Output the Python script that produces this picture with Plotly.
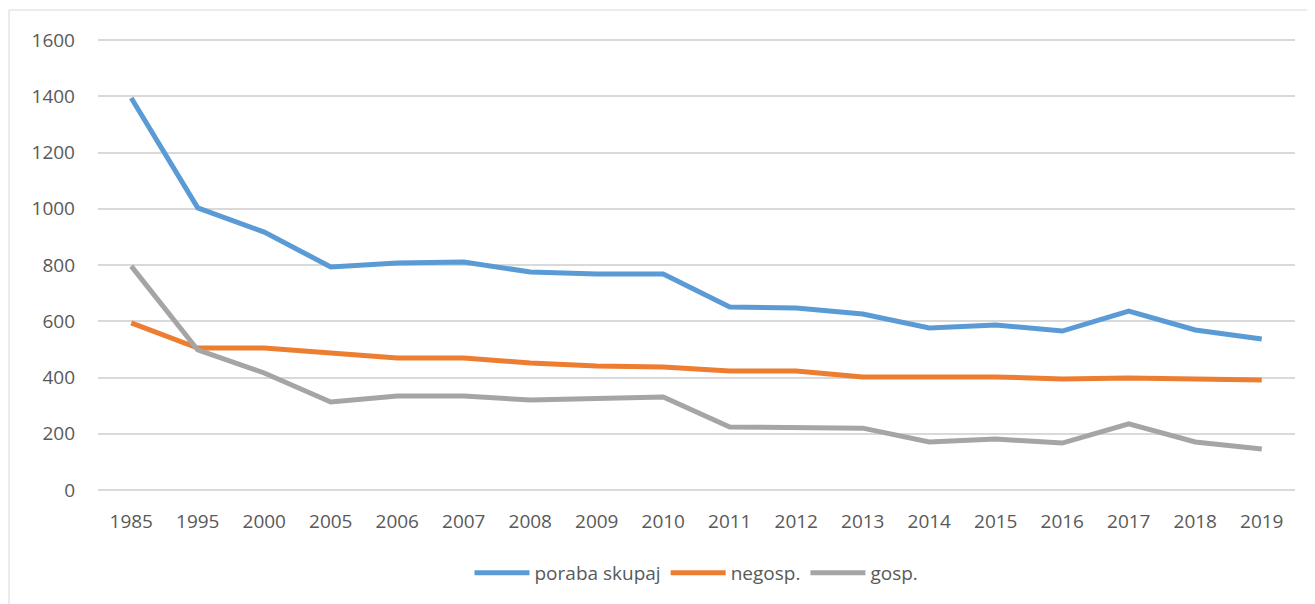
import plotly.graph_objects as go

years = ["1985", "1995", "2000", "2005", "2006", "2007", "2008", "2009", "2010",
         "2011", "2012", "2013", "2014", "2015", "2016", "2017", "2018", "2019"]
poraba_skupaj = [1394, 1003, 917, 793, 807, 811, 775, 768, 768,
                 651, 647, 626, 576, 587, 565, 636, 569, 537]
negosp = [594, 505, 505, 487, 469, 469, 452, 441, 437,
          423, 423, 402, 402, 402, 395, 398, 395, 391]
gosp = [796, 498, 416, 313, 334, 334, 320, 324, 331,
        224, 220, 220, 171, 181, 167, 235, 171, 146]

series = [("poraba skupaj", poraba_skupaj, "#5b9bd5"),
          ("negosp.", negosp, "#ed7d31"),
          ("gosp.", gosp, "#a5a5a5")]

fig = go.Figure()
for name, vals, col in series:
    fig.add_trace(go.Scatter(x=years, y=vals, name=name, mode="lines",
                             line=dict(color=col, width=5)))

# page has an 8px body margin; compensate
W, H = 1307, 596
L, R, T, B = 90, 20, 30, 111
pw, ph = W - L - R, H - T - B
upp = 1600 / 450.0  # units per pixel

fig.update_layout(
    width=W, height=H,
    margin=dict(l=L, r=R, t=T, b=B, autoexpand=False),
    paper_bgcolor="white", plot_bgcolor="white",
    font=dict(family="Open Sans", size=19, color="#595959"),
    showlegend=True,
    legend=dict(orientation="h", x=0.5, xanchor="center",
                y=(ph + 3 - (576 - 8 - T)) / ph, yanchor="middle",
                font=dict(size=19, color="#595959"), itemwidth=55),
    xaxis=dict(type="category", range=[-0.5, len(years) - 0.5],
               showgrid=False, zeroline=False, showline=False, automargin=False,
               ticks="", ticklabelstandoff=15, tickfont=dict(size=19, color="#595959")),
    yaxis=dict(range=[-3 * upp, 1600 + 2 * upp],
               tickvals=[0, 200, 400, 600, 800, 1000, 1200, 1400, 1600],
               showgrid=True, gridcolor="#d9d9d9", automargin=False,
               gridwidth=1.5, zeroline=False, showline=False, ticks="",
               ticklabelstandoff=22, tickfont=dict(size=19, color="#595959")),
    shapes=[dict(type="rect", xref="paper", yref="paper",
                 x0=(1 - L) / pw, x1=(W + 10 - L) / pw,
                 y0=(T + ph - H - 10) / ph, y1=(T + ph - 2) / ph,
                 line=dict(color="#d9d9d9", width=1), fillcolor="rgba(0,0,0,0)",
                 layer="below")],
)

fig.write_html("out.html")
